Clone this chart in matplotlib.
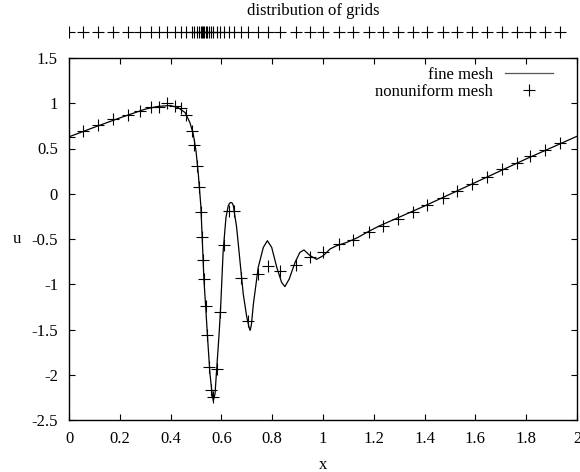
import numpy as np
import matplotlib
matplotlib.use('Agg')
import matplotlib.pyplot as plt
from matplotlib.ticker import FormatStrFormatter

plt.rcParams['font.family'] = ['Liberation Serif', 'DejaVu Serif']
plt.rcParams['axes.unicode_minus'] = False

# fine mesh solution
fine_x = [0.000, 0.100, 0.200, 0.300, 0.350, 0.398, 0.429, 0.457, 0.476, 0.489,
          0.500, 0.509, 0.519, 0.526, 0.531, 0.539, 0.548, 0.555, 0.562, 0.568,
          0.575, 0.581, 0.591, 0.597, 0.607, 0.618, 0.627, 0.632, 0.638, 0.643,
          0.647, 0.660, 0.673, 0.686, 0.700, 0.709, 0.713, 0.718, 0.726, 0.745,
          0.765, 0.781, 0.798, 0.818, 0.837, 0.850, 0.867, 0.890, 0.909, 0.925,
          0.949, 0.975, 1.001, 1.028, 1.054, 1.093, 1.133, 1.185, 1.224, 1.400,
          1.600, 1.800, 2.000]
fine_u = [0.629, 0.735, 0.838, 0.935, 0.965, 0.975, 0.953, 0.897, 0.787, 0.662,
          0.475, 0.221, -0.132, -0.593, -0.938, -1.291, -1.696, -1.987, -2.174, -2.290,
          -2.208, -1.954, -1.545, -1.255, -0.629, -0.262, -0.132, -0.105, -0.096, -0.105,
          -0.132, -0.372, -0.740, -1.107, -1.365, -1.476, -1.510, -1.450, -1.217, -0.813,
          -0.593, -0.519, -0.593, -0.813, -0.979, -1.026, -0.942, -0.758, -0.648, -0.621,
          -0.684, -0.725, -0.684, -0.610, -0.574, -0.538, -0.489, -0.408, -0.353, -0.135,
          0.125, 0.385, 0.635]

# nonuniform mesh nodes
mesh_x = [0.000, 0.055, 0.114, 0.173, 0.232, 0.280, 0.322, 0.354, 0.387, 0.417,
          0.439, 0.459, 0.483, 0.492, 0.503, 0.511, 0.519, 0.525, 0.528, 0.533,
          0.539, 0.544, 0.552, 0.559, 0.568, 0.581, 0.594, 0.610, 0.630, 0.648,
          0.677, 0.706, 0.743, 0.782, 0.831, 0.893, 0.949, 1.001, 1.064, 1.119,
          1.182, 1.237, 1.296, 1.356, 1.411, 1.471, 1.529, 1.586, 1.645, 1.703,
          1.763, 1.815, 1.874, 1.933]
mesh_u = [0.629, 0.695, 0.762, 0.822, 0.872, 0.916, 0.955, 0.955, 1.004, 0.966,
          0.949, 0.872, 0.690, 0.541, 0.309, 0.070, -0.206, -0.475, -0.732, -0.941,
          -1.236, -1.556, -1.909, -2.174, -2.248, -1.935, -1.302, -0.563, -0.188, -0.188,
          -0.935, -1.402, -0.886, -0.802, -0.850, -0.784, -0.703, -0.648, -0.555, -0.511,
          -0.419, -0.353, -0.279, -0.199, -0.121, -0.048, 0.033, 0.107, 0.188, 0.268,
          0.342, 0.416, 0.482, 0.566]

xticks = [0, 0.2, 0.4, 0.6, 0.8, 1, 1.2, 1.4, 1.6, 1.8, 2]
yticks = [-2.5, -2, -1.5, -1, -0.5, 0, 0.5, 1, 1.5]

fig = plt.figure(figsize=(5.8, 4.72), dpi=100)
W, H = 580, 472

# main plot
ax = fig.add_axes([69 / W, 1 - 420 / H, 508 / W, 362 / H])
ax.plot(fine_x, fine_u, color='black', lw=0.9, label='fine mesh')
ax.plot(mesh_x, mesh_u, ls='none', marker='+', ms=8, mew=0.8, color='black',
        label='nonuniform mesh')
ax.set_xlim(0, 2)
ax.set_ylim(-2.5, 1.5)
ax.set_xticks(xticks)
ax.set_yticks(yticks)
ax.xaxis.set_major_formatter(FormatStrFormatter('%g'))
ax.yaxis.set_major_formatter(FormatStrFormatter('%g'))
ax.tick_params(direction='in', top=True, right=True, length=4, width=0.8,
               labelsize=12)
ax.tick_params(axis='x', pad=8)
ax.tick_params(axis='y', pad=8)
for s in ax.spines.values():
    s.set_linewidth(1.0)
ax.set_xlabel('x', fontsize=12, labelpad=7)
ax.set_ylabel('u', fontsize=12, rotation=0, labelpad=10, va='center')

leg = ax.legend(loc='upper right', bbox_to_anchor=(0.986, 1.022), frameon=False,
                markerfirst=False, fontsize=12, handlelength=2.9,
                handletextpad=0.7, labelspacing=0.05, borderaxespad=0.6)
for col in leg._legend_handle_box.get_children():
    col.align = 'right'
leg.get_lines()[0].set_color('#555555')

# strip showing grid distribution
strip = fig.add_axes([69 / W, 1 - 40 / H, 508 / W, 16 / H])
strip.plot(mesh_x, np.zeros(len(mesh_x)), ls='none', marker='+', ms=8, mew=0.8,
           color='black')
strip.set_xlim(0, 2)
strip.set_ylim(-1, 1)
strip.axis('off')
fig.text(313 / W, 1 - 11 / H, 'distribution of grids', ha='center', va='center',
         fontsize=12)

fig.savefig('out.png', dpi=100)
